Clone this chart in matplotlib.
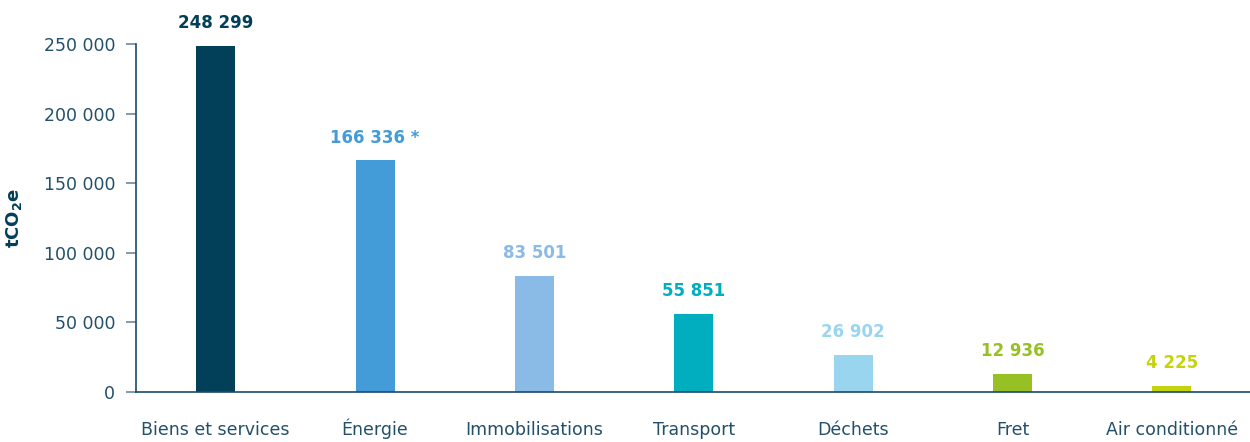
import matplotlib.pyplot as plt

# émissions par poste (tCO2e)
categories = ["Biens et services", "Énergie", "Immobilisations", "Transport",
              "Déchets", "Fret", "Air conditionné"]
values = [248299, 166336, 83501, 55851, 26902, 12936, 4225]
labels = ["248 299", "166 336 *", "83 501", "55 851", "26 902", "12 936", "4 225"]
bar_colors = ["#023f58", "#439bd7", "#8abbe6", "#00aec0", "#9ad5f0", "#97c024", "#c5d30f"]
yticks = [0, 50000, 100000, 150000, 200000, 250000]
ytick_labels = ["0", "50 000", "100 000", "150 000", "200 000", "250 000"]

plt.rcParams['font.family'] = ['DejaVu Sans']
text_col = "#22506a"
axis_col = "#1d4a66"

fig = plt.figure(figsize=(12.5, 4.42), dpi=100)
ax = fig.add_axes([0.1088, 0.1131, 0.8912, 0.7874])

x = range(len(categories))
bars = ax.bar(x, values, width=0.245, color=bar_colors)

for i, (v, lab) in enumerate(zip(values, labels)):
    ax.annotate(lab, (i, v), xytext=(0, 10), textcoords='offset points',
                ha='center', va='bottom', fontsize=12, fontweight='bold',
                color=bar_colors[i])

ax.set_xlim(-0.5, 6.49)
ax.set_ylim(0, 250000)
ax.set_yticks(yticks)
ax.set_yticklabels(ytick_labels)
ax.set_xticks(list(x))
ax.set_xticklabels(categories)

# labels on a common baseline so the accent does not push "Énergie" down
ax.tick_params(axis='x', length=0, pad=31, labelsize=12.5, labelcolor=text_col)
for t in ax.get_xticklabels():
    t.set_va('baseline')
ax.tick_params(axis='y', length=7, width=1.2, color="#6b8a9c", pad=8,
               labelsize=12.5, labelcolor=text_col)

for s in ['top', 'right']:
    ax.spines[s].set_visible(False)
ax.spines['left'].set_color(axis_col)
ax.spines['bottom'].set_color(axis_col)
ax.spines['left'].set_linewidth(1.2)
ax.spines['bottom'].set_linewidth(1.2)

ax.set_ylabel(r"tCO$_\mathbf{2}$e", fontsize=13, fontweight='bold', color="#023f58",
              labelpad=14)

fig.savefig("out.png", dpi=100)
